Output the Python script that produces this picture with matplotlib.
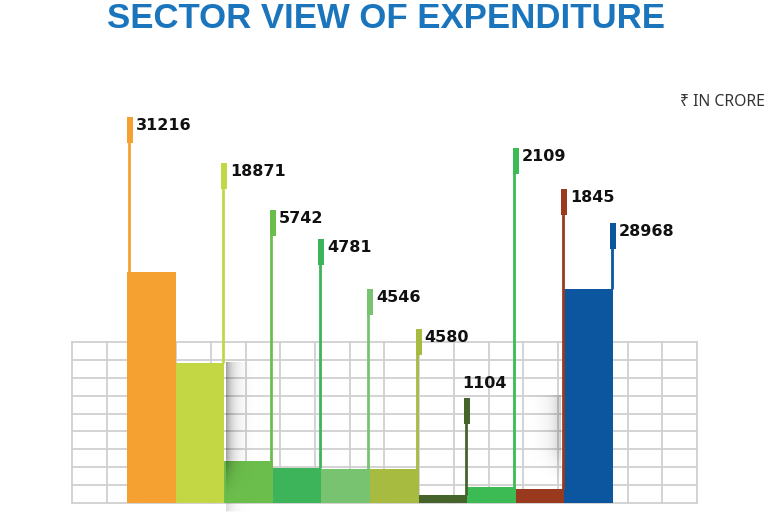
import matplotlib
matplotlib.use("Agg")
import numpy as np
import matplotlib.pyplot as plt
from matplotlib.patches import Rectangle

# ---- data ----
values = [31216, 18871, 5742, 4781, 4546, 4580, 1104, 2109, 1845, 28968]
labels = [str(v) for v in values]
colors = ["#F4A131", "#C3D745", "#6CBE4C", "#3DB459", "#77C36F",
          "#A6BB3F", "#45632B", "#3CBA54", "#993A1E", "#0C56A0"]
title = "SECTOR VIEW OF EXPENDITURE"
unit_text = "\u20b9 IN CRORE"

# ---- layout (pixels on a 768x512 canvas) ----
FW, FH = 768, 512
X0, W, BASE, K = 127, 48.6, 503, 0.0074
label_tops = [117, 163, 210, 239, 289, 329, 398, 148, 189, 223]
grid_left, grid_right, grid_top = 72, 697, 342
n_cols, n_rows = 18, 9

fig = plt.figure(figsize=(FW / 100, FH / 100), dpi=100)
ax = fig.add_axes([0, 0, 1, 1])
ax.set_xlim(-0.5 - X0 / W, -0.5 + (FW - X0) / W)
ax.set_ylim(-(FH - BASE) / K, BASE / K)
ax.axis("off")


def dx(px):
    return -0.5 + (px - X0) / W


def dy(py):
    return (BASE - py) / K


# background grid
gc = "#D0D0D0"
for c in range(n_cols + 1):
    px = grid_left + c * (grid_right - grid_left) / n_cols
    ax.plot([dx(px), dx(px)], [dy(grid_top), dy(BASE)], color=gc, lw=1.3, zorder=1)
for r in range(n_rows + 1):
    py = grid_top + r * (BASE - grid_top) / n_rows
    ax.plot([dx(grid_left), dx(grid_right)], [dy(py), dy(py)], color=gc, lw=1.3, zorder=1)


# soft shadows (decorative): horizontal fade away from an edge
def shadow(edge, direction, length, y0, y1, ramp, strength, z):
    nx, ny = 80, 120
    xs = np.linspace(0, 4 * length, nx)
    ys = np.linspace(y0, y1, ny)
    gx, gy = np.meshgrid(xs, ys)
    env = np.clip((gy - y0) / ramp, 0, 1) ** 1.5
    a = strength * np.exp(-gx / length) * env
    img = np.zeros((ny, nx, 4))
    img[..., 3] = a
    xa, xb = (edge, edge + 4 * length) if direction > 0 else (edge, edge - 4 * length)
    ax.imshow(img, extent=(dx(xa), dx(xb), dy(y0), dy(y1)),
              origin="upper", aspect="auto", zorder=z, interpolation="bilinear")


shadow(226, +1, 7, 362, 503, 45, 0.38, 3.5)
shadow(561, -1, 9, 395, 487, 40, 0.20, 2.5)
shadow(226, +1, 7, 503, 512, 1, 0.15, 2.5)

# bars
ax.bar(range(len(values)), values, width=1.0, color=colors, linewidth=0, zorder=3)

# leader lines, tabs and labels
for i, (v, lab, col, top) in enumerate(zip(values, labels, colors, label_tops)):
    edge_px = X0 + (i + (0 if i == 0 else 1)) * W
    thin_c = edge_px + 2 if i == 0 else edge_px - 1.5
    tab_l = edge_px if i == 0 else edge_px - 3
    ax.plot([dx(thin_c), dx(thin_c)], [v, dy(top)], color=col, lw=2.0,
            solid_capstyle="butt", zorder=4)
    ax.add_patch(Rectangle((dx(tab_l), dy(top + 26)), 6 / W, 26 / K, color=col, lw=0, zorder=4))
    if top > 380:
        ax.text(dx(tab_l - 2), dy(top - 7), lab, ha="left", va="bottom", fontsize=11.5,
                fontweight="bold", family="DejaVu Sans", color="#111111", zorder=5)
    else:
        ax.text(dx(tab_l + 9), dy(top + 1), lab, ha="left", va="top", fontsize=11.5,
                fontweight="bold", family="DejaVu Sans", color="#111111", zorder=5)

fig.text(0.5 + 2 / FW, 1 - 18 / FH, title, ha="center", va="center", fontsize=25,
         fontweight="bold", family=["Liberation Sans", "DejaVu Sans"], color="#1B75BC")
fig.text(680 / FW, 1 - 102 / FH, unit_text, ha="left", va="center", fontsize=11.3,
         family=["Noto Sans", "DejaVu Sans"], color="#333333")

fig.savefig("out.png", dpi=100)
